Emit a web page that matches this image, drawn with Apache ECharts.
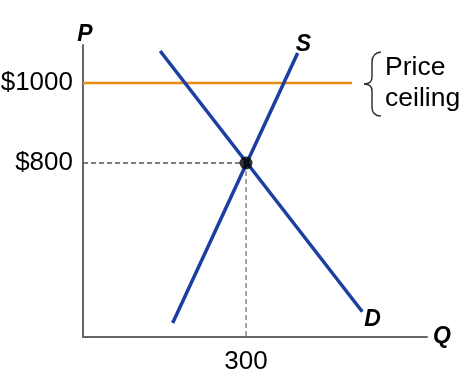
<!DOCTYPE html>
<html><head><meta charset="utf-8">
<script src="https://cdn.jsdelivr.net/npm/echarts@6/dist/echarts.min.js"></script>
<style>html,body{margin:0;padding:0;background:#fff}#c{width:472px;height:382px}</style>
</head><body><div id="c"></div>
<script>
var supply = [[165, 400], [395, 1075]];
var demand = [[142, 1080], [514, 428]];
var equilibrium = [[300, 800]];
var ceilingPrice = 1000;
var ceilingQ = [0, 495];
var yTicks = [800, 1000];
var xTicks = [300];

var ch = echarts.init(document.getElementById('c'));
var FONT = 'Liberation Sans, Arial, sans-serif';
var braceStyle = {fill: 'none', stroke: '#333', lineWidth: 1.5};
function bz(x1, y1, cx, cy, x2, y2) {
  return {type: 'bezierCurve', shape: {x1: x1, y1: y1, cpx1: cx, cpy1: cy, x2: x2, y2: y2}, style: braceStyle};
}
function ln(x1, y1, x2, y2) {
  return {type: 'line', shape: {x1: x1, y1: y1, x2: x2, y2: y2}, style: braceStyle};
}
ch.setOption({
  animation: false,
  grid: {left: 83, right: 45, top: 45, bottom: 45, containLabel: false, outerBoundsMode: 'none'},
  xAxis: {
    type: 'value', min: 0, max: 633,
    name: 'Q', nameLocation: 'end', nameGap: 6,
    nameTextStyle: {fontFamily: FONT, fontSize: 23, fontWeight: 'bold', fontStyle: 'italic', color: '#000', verticalAlign: 'middle', padding: [5, 0, 0, 0]},
    axisLine: {show: true, lineStyle: {color: '#666', width: 2}},
    axisTick: {show: false}, splitLine: {show: false},
    axisLabel: {customValues: xTicks, fontFamily: FONT, fontSize: 26, color: '#000', margin: 12}
  },
  yAxis: {
    type: 'value', min: 365, max: 1095,
    name: 'P', nameLocation: 'end', nameGap: -1,
    nameTextStyle: {fontFamily: FONT, fontSize: 23, fontWeight: 'bold', fontStyle: 'italic', color: '#000', align: 'center', padding: [0, 0, 0, 4]},
    axisLine: {show: true, lineStyle: {color: '#666', width: 2}},
    axisTick: {show: false}, splitLine: {show: false},
    axisLabel: {customValues: yTicks, fontFamily: FONT, fontSize: 26, color: '#000', margin: 10,
      formatter: function (v) { return '$' + v; }}
  },
  series: [
    {type: 'line', data: [[0, 800], equilibrium[0]], symbol: 'none', z: 1,
     lineStyle: {color: '#555', width: 1.3, type: [5, 3]}},
    {type: 'line', data: [equilibrium[0], [equilibrium[0][0], 365]], symbol: 'none', z: 1,
     lineStyle: {color: '#777', width: 1.3, type: [5, 3]}},
    {type: 'line', data: [[ceilingQ[0], ceilingPrice], [ceilingQ[1], ceilingPrice]], symbol: 'none', z: 2,
     lineStyle: {color: '#EA8A10', width: 2.5}},
    {type: 'line', data: supply, symbol: 'none', z: 3,
     lineStyle: {color: '#1B3FA0', width: 3.5},
     endLabel: {show: true, formatter: 'S', fontFamily: FONT, fontSize: 23, fontWeight: 'bold', fontStyle: 'italic', color: '#000', offset: [-10, -8]}},
    {type: 'line', data: demand, symbol: 'none', z: 3,
     lineStyle: {color: '#1B3FA0', width: 3.5},
     endLabel: {show: true, formatter: 'D', fontFamily: FONT, fontSize: 23, fontWeight: 'bold', fontStyle: 'italic', color: '#000', offset: [-6, 8]}},
    {type: 'scatter', data: equilibrium, symbol: 'circle', symbolSize: 13, z: 5,
     itemStyle: {color: '#000'}}
  ],
  graphic: [
    {type: 'group', children: [
      bz(381, 52, 372, 53, 372, 62),
      ln(372, 62, 372, 77),
      bz(372, 77, 372, 84, 364, 84),
      bz(364, 84, 372, 84, 372, 91),
      ln(372, 91, 372, 107),
      bz(372, 107, 372, 116, 381, 116)
    ]},
    {type: 'text', x: 385, y: 52, style: {text: 'Price\nceiling', font: '26.5px ' + FONT, fill: '#000', lineHeight: 31}}
  ]
});
</script></body></html>
